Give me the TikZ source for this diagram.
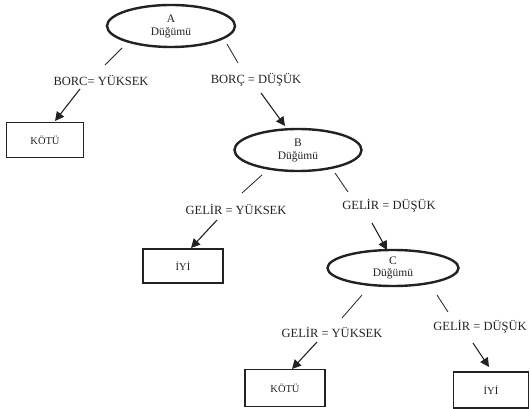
\documentclass[tikz,border=0pt]{standalone}
\usepackage{fontspec}
\setmainfont{Liberation Serif}
\usetikzlibrary{shapes.geometric,arrows.meta}
\definecolor{ink}{HTML}{222222}
\tikzset{
  dnode/.style={ellipse,draw=ink,line width=2.4pt,inner sep=0pt,align=center,font=\fontsize{11.5}{12}\selectfont,text=ink},
  leaf/.style={rectangle,draw=ink,line width=1.4pt,inner sep=0pt,font=\fontsize{10.5}{12}\selectfont,text=ink},
  lab/.style={inner sep=1pt,font=\fontsize{12.5}{14}\selectfont,text=ink},
  seg/.style={draw=ink,line width=0.8pt},
  arr/.style={draw=ink,line width=1.1pt,-{Triangle[length=9pt,width=9pt]}}
}
\begin{document}
\begin{tikzpicture}[x=1pt,y=-1pt]
\useasboundingbox (0,0) rectangle (530,409);
% decision nodes
\node[dnode,minimum width=128pt,minimum height=42pt] (A) at (171,26) {A\\[1pt]Düğümü};
\node[dnode,minimum width=127pt,minimum height=42pt] (B) at (298,150) {B\\[1pt]Düğümü};
\node[dnode,minimum width=131pt,minimum height=36pt] (C) at (393,268) {C\\[0pt]Düğümü};
% leaves
\node[leaf,minimum width=77pt,minimum height=35pt] (K1) at (45,140) {KÖTÜ};
\node[leaf,minimum width=80pt,minimum height=34pt] (I1) at (183,266) {İYİ};
\node[leaf,minimum width=80pt,minimum height=37pt] (K2) at (285,388) {KÖTÜ};
\node[leaf,minimum width=75pt,minimum height=36pt] (I2) at (491,390) {İYİ};
% labels
\node[lab] (l1) at (101,80) {BORC= YÜKSEK};
\node[lab] (l2) at (256,80) {BORÇ = DÜŞÜK};
\node[lab] (l3) at (236,209) {GELİR = YÜKSEK};
\node[lab] (l4) at (389,206) {GELİR = DÜŞÜK};
\node[lab] (l5) at (332,332) {GELİR = YÜKSEK};
\node[lab] (l6) at (480,327) {GELİR = DÜŞÜK};
% connector end points
\coordinate (a1) at (122,48);  \coordinate (a1e) at (105,65);
\coordinate (b1) at (80,89);   \coordinate (b1e) at (55,121);
\coordinate (a2) at (227,44);  \coordinate (a2e) at (238,63);
\coordinate (b2) at (261,93);  \coordinate (b2e) at (285,126);
\coordinate (a3) at (262,175); \coordinate (a3e) at (242,193);
\coordinate (b3) at (217,220); \coordinate (b3e) at (191,248);
\coordinate (a4) at (335,173); \coordinate (a4e) at (348,192);
\coordinate (b4) at (372,223); \coordinate (b4e) at (387,250);
\coordinate (a5) at (362,295); \coordinate (a5e) at (342,318);
\coordinate (b5) at (317,342); \coordinate (b5e) at (292,369);
\coordinate (a6) at (437,295); \coordinate (a6e) at (448,312);
\coordinate (b6) at (473,343); \coordinate (b6e) at (489,367);
% connectors
\draw[seg] (a1) -- (a1e);
\draw[arr] (b1) -- (b1e);
\draw[seg] (a2) -- (a2e);
\draw[arr] (b2) -- (b2e);
\draw[seg] (a3) -- (a3e);
\draw[arr] (b3) -- (b3e);
\draw[seg] (a4) -- (a4e);
\draw[arr] (b4) -- (b4e);
\draw[seg] (a5) -- (a5e);
\draw[arr] (b5) -- (b5e);
\draw[seg] (a6) -- (a6e);
\draw[arr] (b6) -- (b6e);
\end{tikzpicture}
\end{document}
